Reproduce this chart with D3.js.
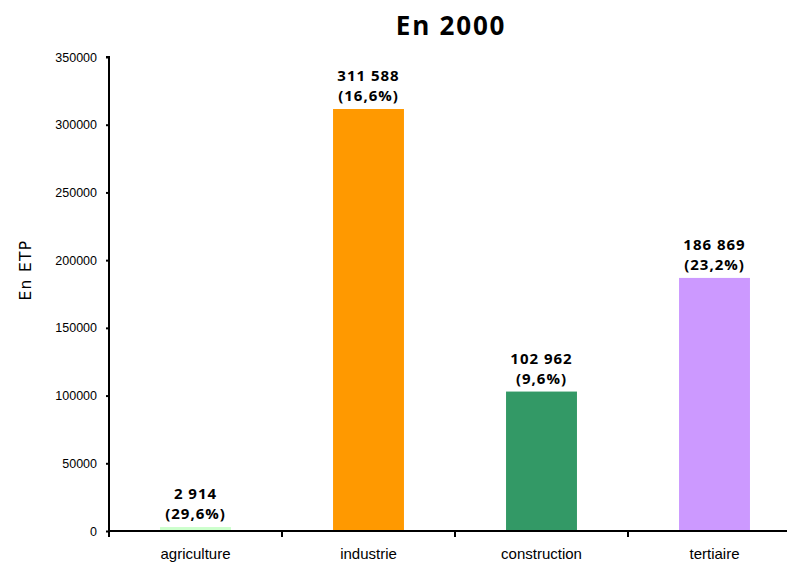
<!DOCTYPE html>
<html><head><meta charset="utf-8">
<script src="https://cdn.jsdelivr.net/npm/d3@7"></script>
<style>body{margin:0;background:#fff}svg{display:block}</style>
</head><body>
<svg id="c" width="787" height="564"></svg>
<script>
const categories = ["agriculture", "industrie", "construction", "tertiaire"];
const values = [2914, 311588, 102962, 186869];
const valueLabels = ["2 914", "311 588", "102 962", "186 869"];
const pctLabels = ["(29,6%)", "(16,6%)", "(9,6%)", "(23,2%)"];
const colors = ["#ccffcc", "#ff9900", "#339966", "#cc99ff"];
const yTicks = [0, 50000, 100000, 150000, 200000, 250000, 300000, 350000];

(function () {
const svg = d3.select("#c");
const mLeft = 109, mRight = 801, mTop = 57, mBottom = 531;
const x = d3.scaleBand().domain(categories).range([mLeft, mRight]).paddingInner(0.59).paddingOuter(0.295);
const xb = d3.scaleBand().domain(categories).range([mLeft, mRight]);
const y = d3.scaleLinear().domain([0, 350000]).range([mBottom, mTop]);

svg.append("text").attr("x", 451).attr("y", 35).attr("text-anchor", "middle")
  .attr("font-family", "Open Sans, sans-serif").attr("font-weight", "bold").attr("font-size", 26)
  .attr("letter-spacing", 1.8)
  .text("En 2000");

svg.selectAll("rect.bar").data(values).enter().append("rect").attr("class", "bar")
  .attr("x", (d, i) => x(categories[i])).attr("width", x.bandwidth())
  .attr("y", d => y(d)).attr("height", d => mBottom - y(d))
  .attr("fill", (d, i) => colors[i]);

// y axis
const ya = svg.append("g").attr("transform", `translate(${mLeft},0)`)
  .call(d3.axisLeft(y).tickValues(yTicks).tickFormat(d3.format("d")).tickSize(3).tickPadding(9));
ya.select(".domain").attr("stroke", "#000").attr("stroke-width", 2).attr("d", `M-3,${mTop}H0V${mBottom}`);
ya.selectAll(".tick line").attr("stroke-width", 2);
ya.selectAll("text").attr("font-family", "Liberation Sans, Arial, sans-serif").attr("font-size", 12.5).attr("fill", "#000");

// x axis
const xa = svg.append("g").attr("transform", `translate(0,${mBottom})`);
xa.append("line").attr("x1", mLeft).attr("x2", mRight).attr("y1", 0).attr("y2", 0).attr("stroke", "#000").attr("stroke-width", 2);
xa.selectAll("line.t").data(categories).enter().append("line").attr("class", "t")
  .attr("x1", d => xb(d)).attr("x2", d => xb(d)).attr("y1", 0).attr("y2", 6)
  .attr("stroke", "#000").attr("stroke-width", 2);
xa.selectAll("text").data(categories).enter().append("text")
  .attr("x", d => xb(d) + xb.bandwidth() / 2).attr("y", 28)
  .attr("text-anchor", "middle").attr("font-family", "Liberation Sans, Arial, sans-serif").attr("font-size", 15)
  .text(d => d);

svg.append("text").attr("transform", "translate(31,270) rotate(-90)").attr("text-anchor", "middle")
  .attr("font-family", "DejaVu Sans, sans-serif").attr("font-size", 15.5).attr("letter-spacing", 1.3).text("En ETP");

const lab = svg.selectAll("text.lab").data(values).enter().append("text").attr("class", "lab")
  .attr("text-anchor", "middle").attr("font-family", "Open Sans, sans-serif").attr("font-weight", "bold").attr("font-size", 15)
  .attr("letter-spacing", 1);
lab.append("tspan").attr("x", (d, i) => xb(categories[i]) + xb.bandwidth() / 2).attr("y", d => y(d) - 28)
  .text((d, i) => valueLabels[i]);
lab.append("tspan").attr("x", (d, i) => xb(categories[i]) + xb.bandwidth() / 2).attr("y", d => y(d) - 8)
  .text((d, i) => pctLabels[i]);
})();
</script>
</body></html>
